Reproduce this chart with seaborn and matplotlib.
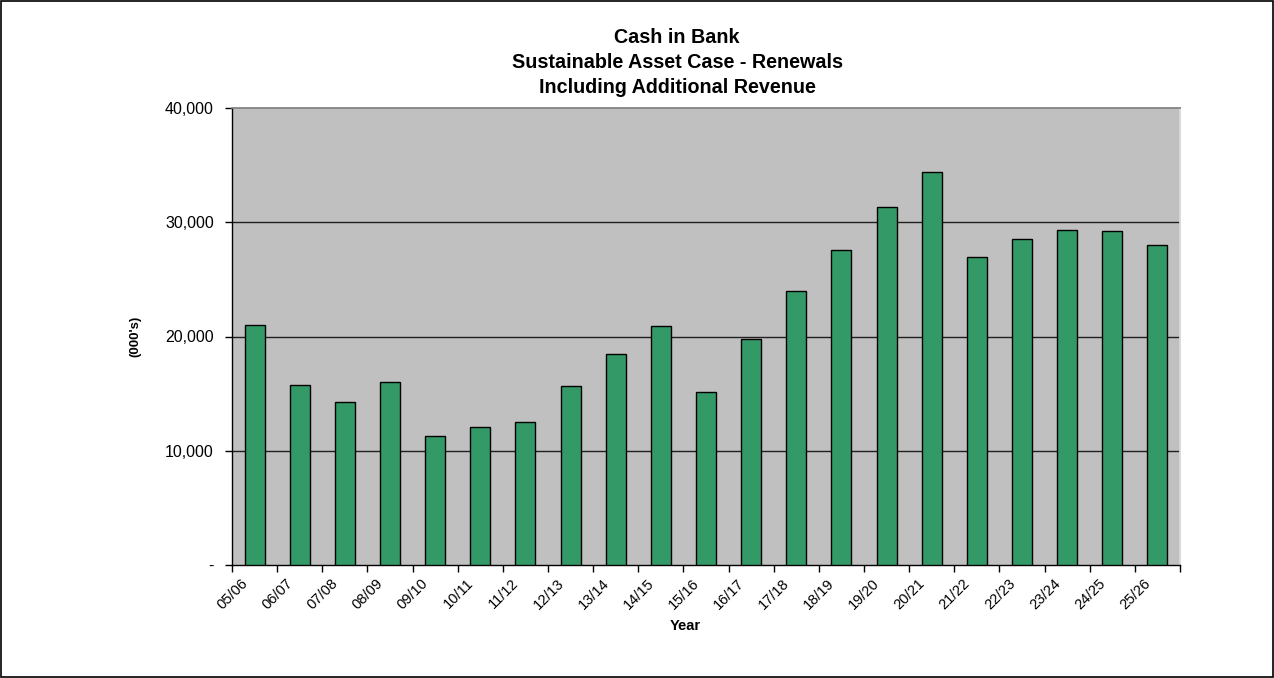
import matplotlib
matplotlib.use("Agg")
import matplotlib.pyplot as plt
import seaborn as sns
import pandas as pd
from matplotlib.ticker import FuncFormatter, FixedLocator
from matplotlib.patches import Rectangle
from matplotlib.transforms import ScaledTranslation

years = ["05/06", "06/07", "07/08", "08/09", "09/10", "10/11", "11/12", "12/13",
         "13/14", "14/15", "15/16", "16/17", "17/18", "18/19", "19/20", "20/21",
         "21/22", "22/23", "23/24", "24/25", "25/26"]
cash = [21050, 15750, 14300, 16050, 11300, 12050, 12500, 15650,
        18500, 20900, 15100, 19750, 23950, 27600, 31350, 34400,
        26950, 28550, 29350, 29200, 28000]
yticks = [0, 10000, 20000, 30000, 40000]

df = pd.DataFrame({"Year": years, "Cash": cash})

sns.set_theme(style="white")
plt.rcParams["font.family"] = ["Liberation Sans", "DejaVu Sans"]
plt.rcParams.update({"text.color": "black", "axes.labelcolor": "black",
                     "xtick.color": "black", "ytick.color": "black"})

fig = plt.figure(figsize=(12.74, 6.78), dpi=100)
fig.patch.set_facecolor("white")
ax = fig.add_axes([232/1274, 1-565/678, (1180-232)/1274, (565-108)/678])
ax.set_facecolor("#C0C0C0")

sns.barplot(data=df, x="Year", y="Cash", color="#339966", width=0.44,
            edgecolor="black", linewidth=1, saturation=1, ax=ax, zorder=3)

ax.set_ylim(0, 40000)
ax.set_xlim(-0.5, len(years) - 0.5)
ax.yaxis.set_major_locator(FixedLocator(yticks))
ax.yaxis.set_major_formatter(FuncFormatter(lambda v, p: "-" if v == 0 else f"{int(v):,}"))
for v in yticks[1:-1]:
    ax.axhline(v, color="#202020", lw=1, zorder=1)

ax.set_xticks(range(len(years)))
ax.set_xticklabels(years, rotation=45, ha="right", va="top", rotation_mode="anchor", fontsize=10.5)
ax.set_xticks([i - 0.5 for i in range(len(years) + 1)], minor=True)
ax.tick_params(axis="x", which="major", length=0, pad=8)
ax.tick_params(axis="x", which="minor", length=5, width=1, color="black", direction="out", bottom=True)
ax.tick_params(axis="y", which="major", length=5, width=1, color="black", direction="out", left=True, labelsize=11.5, pad=8)
off = ScaledTranslation(-14/100, 0, fig.dpi_scale_trans)
for lab in ax.get_xticklabels():
    lab.set_transform(lab.get_transform() + off)

for s in ["left", "bottom"]:
    ax.spines[s].set_color("black")
    ax.spines[s].set_linewidth(1)
ax.spines["top"].set_color("#808080")
ax.spines["right"].set_color("#D8D8D8")

ax.set_xlabel("Year", fontsize=10.5, fontweight="bold")
ax.xaxis.set_label_coords((685-232)/948, -(626-565)/457)
ax.xaxis.label.set_va("center")
ax.set_ylabel("(000's)", fontsize=9.5, fontweight="bold")
ax.yaxis.set_label_coords((135-232)/948, (565-336)/457)
ax.yaxis.label.set_va("center")
ax.set_title("Cash in Bank\nSustainable Asset Case - Renewals\nIncluding Additional Revenue",
             fontsize=14.2, fontweight="bold", linespacing=1.4, pad=11,
             x=(677-232)/948)

fig.patches.append(Rectangle((0.0008, 0.0015), 0.9984, 0.997, transform=fig.transFigure,
                             fill=False, edgecolor="black", lw=1.2))

fig.savefig("out.png", dpi=100)
